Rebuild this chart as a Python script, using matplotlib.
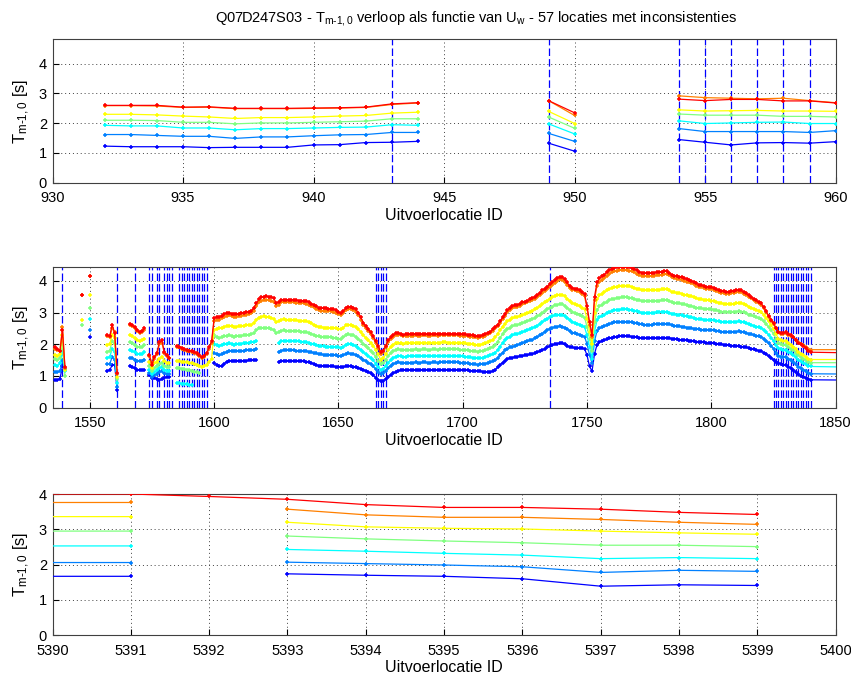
import numpy as np
import matplotlib
matplotlib.use('Agg')
import matplotlib.pyplot as plt

nan = float('nan')

plt.rcParams['font.family'] = ['Liberation Sans', 'DejaVu Sans']
plt.rcParams['mathtext.fontset'] = 'custom'
plt.rcParams['mathtext.rm'] = 'Liberation Sans'
plt.rcParams['mathtext.it'] = 'Liberation Sans:italic'

# one colour per wind speed class (low -> high)
series_colors = ['#0000ff', '#0080ff', '#00ffff', '#80ff80', '#ffff00', '#ff8000', '#ff0000']

# ---------------- panel 1: locations 930-960 ----------------
top_ids = list(range(932, 961))
top_blue = [1.23, 1.21, 1.21, 1.21, 1.18, 1.19, 1.19, 1.19, 1.27, 1.28, 1.35, 1.36, 1.39,
            nan, nan, nan, nan, 1.33, 1.06, nan, nan, nan,
            1.45, 1.36, 1.27, 1.34, 1.35, 1.33, 1.38]
top_dodger = [1.62, 1.62, 1.59, 1.56, 1.56, 1.49, 1.54, 1.54, 1.58, 1.61, 1.62, 1.69, 1.69,
              nan, nan, nan, nan, 1.66, 1.39, nan, nan, nan,
              1.82, 1.72, 1.72, 1.72, 1.72, 1.69, 1.75]
top_cyan = [1.93, 1.91, 1.91, 1.84, 1.84, 1.78, 1.82, 1.82, 1.84, 1.86, 1.87, 1.95, 1.93,
            nan, nan, nan, nan, 1.98, 1.64, nan, nan, nan,
            2.08, 1.99, 2.01, 2.03, 2.04, 1.99, 1.99]
top_green = [2.10, 2.10, 2.09, 2.03, 2.03, 1.98, 2.01, 2.01, 2.03, 2.05, 2.07, 2.15, 2.15,
             nan, nan, nan, nan, 2.21, 1.83, nan, nan, nan,
             2.31, 2.27, 2.27, 2.27, 2.23, 2.23, 2.21]
top_yellow = [2.30, 2.30, 2.28, 2.24, 2.21, 2.16, 2.19, 2.19, 2.21, 2.24, 2.26, 2.34, 2.37,
              nan, nan, nan, nan, 2.40, 1.99, nan, nan, nan,
              2.45, 2.41, 2.42, 2.43, 2.41, 2.41, 2.40]
top_orange = [2.59, 2.59, 2.58, 2.53, 2.54, 2.49, 2.49, 2.49, 2.50, 2.51, 2.53, 2.63, 2.68,
              nan, nan, nan, nan, 2.76, 2.26, nan, nan, nan,
              2.92, 2.86, 2.84, 2.82, 2.84, 2.76, 2.69]
top_red = [2.60, 2.60, 2.60, 2.54, 2.55, 2.50, 2.50, 2.50, 2.51, 2.52, 2.54, 2.65, 2.69,
           nan, nan, nan, nan, 2.76, 2.35, nan, nan, nan,
           2.81, 2.76, 2.80, 2.80, 2.75, 2.75, 2.68]
top_flags = [943, 949, 954, 955, 956, 957, 958, 959]

# ---------------- panel 2: locations 1535-1850 ----------------
mid_ids = list(range(1536, 1841)) + [1856]
mid_red = [
    1.90, 1.85, 1.78, 2.45, 1.28, nan, nan, nan, nan, nan,
    nan, 3.55, nan, nan, 4.17, nan, nan, nan, nan, nan,
    nan, 2.29, 2.25, 2.62, 2.35, 1.10, nan, nan, nan, nan,
    2.64, 2.60, 2.55, 2.45, 2.38, 2.42, 2.50, nan, 1.65, 1.35,
    1.60, 1.72, 2.08, 2.12, 1.75, 1.65, 1.58, nan, nan, 1.95,
    1.92, 1.88, 1.85, 1.82, 1.80, 1.78, 1.76, 1.72, 1.65, 1.60,
    1.62, 1.72, 1.90, 2.10, 2.82, 2.85, 2.87, 2.90, 2.95, 2.98,
    2.99, 2.97, 2.95, 2.95, 2.96, 2.98, 3.00, 3.02, 3.03, 3.06,
    3.15, 3.30, 3.42, 3.48, 3.50, 3.51, 3.50, 3.48, 3.45, 3.30,
    3.33, 3.40, 3.41, 3.41, 3.40, 3.40, 3.40, 3.39, 3.38, 3.38,
    3.37, 3.36, 3.33, 3.28, 3.25, 3.20, 3.16, 3.14, 3.13, 3.13,
    3.12, 3.12, 3.10, 3.08, 3.02, 2.98, 3.05, 3.15, 3.18, 3.18,
    3.16, 3.10, 3.00, 2.85, 2.68, 2.58, 2.48, 2.38, 2.25, 2.10,
    1.95, 1.75, 1.80, 1.95, 2.12, 2.22, 2.30, 2.35, 2.36, 2.33,
    2.30, 2.31, 2.32, 2.32, 2.32, 2.33, 2.32, 2.32, 2.33, 2.33,
    2.32, 2.32, 2.33, 2.33, 2.32, 2.33, 2.33, 2.34, 2.33, 2.33,
    2.33, 2.33, 2.33, 2.32, 2.32, 2.31, 2.30, 2.29, 2.28, 2.27,
    2.26, 2.27, 2.29, 2.32, 2.36, 2.40, 2.47, 2.55, 2.62, 2.72,
    2.85, 2.95, 3.08, 3.15, 3.20, 3.23, 3.25, 3.28, 3.32, 3.35,
    3.38, 3.42, 3.46, 3.50, 3.56, 3.62, 3.70, 3.76, 3.82, 3.90,
    3.95, 4.02, 4.08, 4.13, 4.12, 4.06, 3.95, 3.84, 3.78, 3.76,
    3.74, 3.70, 3.65, 3.58, 3.20, 2.70, 2.30, 3.50, 3.95, 4.08,
    4.15, 4.20, 4.28, 4.34, 4.38, 4.41, 4.43, 4.44, 4.45, 4.45,
    4.45, 4.43, 4.40, 4.37, 4.33, 4.29, 4.25, 4.24, 4.24, 4.24,
    4.25, 4.26, 4.27, 4.28, 4.29, 4.30, 4.30, 4.26, 4.20, 4.17,
    4.15, 4.13, 4.12, 4.08, 4.05, 4.03, 4.00, 3.96, 3.92, 3.88,
    3.86, 3.84, 3.82, 3.81, 3.80, 3.78, 3.74, 3.70, 3.68, 3.67,
    3.66, 3.66, 3.67, 3.68, 3.70, 3.71, 3.70, 3.66, 3.61, 3.55,
    3.49, 3.44, 3.39, 3.34, 3.29, 3.18, 3.05, 2.90, 2.78, 2.66,
    2.52, 2.40, 2.36, 2.35, 2.38, 2.32, 2.28, 2.24, 2.15, 2.05,
    2.00, 1.95, 1.88, 1.80, 1.75, 1.73]
mid_orange = [
    1.85, 1.82, 1.80, 2.55, 1.25, nan, nan, nan, nan, nan,
    nan, 3.55, nan, nan, 4.15, nan, nan, nan, nan, nan,
    nan, 2.25, 2.22, 2.50, 2.40, 1.05, nan, nan, nan, nan,
    2.60, 2.58, 2.52, 2.42, 2.36, 2.40, 2.46, nan, 1.62, 1.40,
    1.55, 1.68, 2.00, 2.05, 1.72, 1.62, 1.56, nan, nan, 1.92,
    1.90, 1.86, 1.83, 1.80, 1.78, 1.76, 1.73, 1.70, 1.63, 1.58,
    1.60, 1.70, 1.85, 2.05, 2.74, 2.76, 2.78, 2.82, 2.86, 2.90,
    2.91, 2.89, 2.87, 2.87, 2.88, 2.90, 2.92, 2.94, 2.95, 2.98,
    3.06, 3.20, 3.32, 3.38, 3.40, 3.41, 3.40, 3.38, 3.35, 3.22,
    3.25, 3.32, 3.33, 3.33, 3.32, 3.32, 3.32, 3.31, 3.30, 3.30,
    3.29, 3.28, 3.25, 3.20, 3.17, 3.12, 3.08, 3.06, 3.05, 3.05,
    3.04, 3.04, 3.02, 3.00, 2.95, 2.92, 2.98, 3.08, 3.11, 3.11,
    3.09, 3.03, 2.93, 2.78, 2.62, 2.52, 2.42, 2.32, 2.19, 2.04,
    1.89, 1.70, 1.75, 1.90, 2.06, 2.16, 2.24, 2.29, 2.30, 2.28,
    2.26, 2.26, 2.27, 2.27, 2.27, 2.28, 2.27, 2.27, 2.28, 2.28,
    2.27, 2.27, 2.28, 2.28, 2.27, 2.28, 2.28, 2.29, 2.28, 2.28,
    2.28, 2.28, 2.28, 2.27, 2.27, 2.26, 2.25, 2.24, 2.23, 2.22,
    2.21, 2.22, 2.24, 2.27, 2.31, 2.35, 2.42, 2.50, 2.57, 2.67,
    2.80, 2.90, 3.02, 3.09, 3.14, 3.17, 3.19, 3.22, 3.26, 3.29,
    3.32, 3.36, 3.40, 3.44, 3.49, 3.55, 3.62, 3.68, 3.74, 3.82,
    3.87, 3.94, 4.00, 4.05, 4.04, 3.98, 3.88, 3.78, 3.72, 3.70,
    3.68, 3.64, 3.59, 3.52, 3.12, 2.62, 2.22, 3.40, 3.85, 3.97,
    4.04, 4.09, 4.17, 4.23, 4.27, 4.30, 4.32, 4.33, 4.34, 4.34,
    4.34, 4.32, 4.30, 4.27, 4.23, 4.19, 4.16, 4.15, 4.15, 4.15,
    4.16, 4.17, 4.18, 4.19, 4.20, 4.21, 4.21, 4.18, 4.12, 4.09,
    4.07, 4.05, 4.04, 4.01, 3.98, 3.96, 3.93, 3.89, 3.85, 3.82,
    3.80, 3.78, 3.76, 3.75, 3.74, 3.72, 3.68, 3.64, 3.62, 3.61,
    3.60, 3.60, 3.61, 3.62, 3.64, 3.65, 3.64, 3.60, 3.56, 3.50,
    3.45, 3.40, 3.35, 3.30, 3.25, 3.14, 3.01, 2.87, 2.75, 2.63,
    2.50, 2.38, 2.34, 2.33, 2.35, 2.30, 2.27, 2.23, 2.15, 2.06,
    2.02, 1.98, 1.92, 1.86, 1.83, 1.83]
mid_yellow = [
    1.65, 1.62, 1.68, 2.30, 1.20, nan, nan, nan, nan, nan,
    nan, 2.78, nan, nan, 3.57, nan, nan, nan, nan, nan,
    nan, 1.99, 2.00, 2.30, 2.20, 0.98, nan, nan, nan, nan,
    2.30, 2.25, 2.20, 2.14, 2.10, 2.12, 2.18, nan, 1.45, 1.25,
    1.40, 1.45, 1.55, 1.60, 1.48, 1.42, 1.40, nan, nan, 1.48,
    1.47, 1.45, 1.44, 1.43, 1.42, 1.40, 1.38, 1.36, 1.32, 1.29,
    1.30, 1.35, 1.45, 1.55, 2.45, 2.48, 2.50, 2.53, 2.56, 2.58,
    2.59, 2.57, 2.55, 2.56, 2.57, 2.58, 2.59, 2.60, 2.61, 2.62,
    2.68, 2.78, 2.84, 2.87, 2.88, 2.87, 2.85, 2.83, 2.80, 2.70,
    2.72, 2.78, 2.79, 2.78, 2.78, 2.77, 2.77, 2.76, 2.75, 2.75,
    2.74, 2.73, 2.70, 2.66, 2.62, 2.58, 2.55, 2.54, 2.53, 2.53,
    2.52, 2.52, 2.51, 2.50, 2.48, 2.47, 2.53, 2.60, 2.62, 2.61,
    2.59, 2.55, 2.47, 2.38, 2.28, 2.20, 2.12, 2.04, 1.95, 1.83,
    1.68, 1.52, 1.56, 1.68, 1.82, 1.92, 1.99, 2.03, 2.05, 2.04,
    2.02, 2.03, 2.04, 2.04, 2.04, 2.05, 2.04, 2.04, 2.05, 2.05,
    2.04, 2.04, 2.05, 2.05, 2.04, 2.05, 2.06, 2.06, 2.05, 2.05,
    2.05, 2.05, 2.05, 2.04, 2.04, 2.03, 2.02, 2.01, 2.00, 1.99,
    1.98, 1.99, 2.01, 2.03, 2.06, 2.10, 2.15, 2.22, 2.32, 2.45,
    2.56, 2.65, 2.72, 2.78, 2.82, 2.85, 2.87, 2.89, 2.92, 2.95,
    2.98, 3.02, 3.06, 3.10, 3.15, 3.20, 3.26, 3.32, 3.38, 3.44,
    3.48, 3.52, 3.55, 3.57, 3.56, 3.52, 3.44, 3.36, 3.30, 3.27,
    3.24, 3.20, 3.15, 3.10, 2.80, 2.40, 2.00, 3.00, 3.42, 3.55,
    3.60, 3.64, 3.70, 3.75, 3.78, 3.80, 3.82, 3.83, 3.84, 3.84,
    3.84, 3.83, 3.81, 3.79, 3.76, 3.73, 3.71, 3.70, 3.70, 3.70,
    3.70, 3.71, 3.72, 3.72, 3.73, 3.73, 3.73, 3.70, 3.66, 3.64,
    3.62, 3.61, 3.60, 3.57, 3.55, 3.53, 3.51, 3.48, 3.45, 3.43,
    3.42, 3.41, 3.40, 3.39, 3.38, 3.37, 3.34, 3.31, 3.29, 3.28,
    3.27, 3.27, 3.27, 3.28, 3.29, 3.30, 3.29, 3.27, 3.24, 3.19,
    3.15, 3.12, 3.08, 3.05, 3.02, 2.94, 2.84, 2.72, 2.60, 2.48,
    2.32, 2.18, 2.12, 2.10, 2.10, 2.03, 1.98, 1.93, 1.85, 1.75,
    1.70, 1.65, 1.60, 1.55, 1.52, 1.52]
mid_green = [
    1.55, 1.50, 1.58, 2.00, 1.00, nan, nan, nan, nan, nan,
    nan, 2.62, nan, nan, 3.13, nan, nan, nan, nan, nan,
    nan, 1.77, 1.80, 2.10, 2.00, 0.90, nan, nan, nan, nan,
    2.07, 2.03, 1.98, 1.93, 1.90, 1.92, 1.98, nan, 1.30, 1.15,
    1.25, 1.30, 1.38, 1.42, 1.32, 1.28, 1.27, nan, nan, 1.25,
    1.24, 1.22, 1.21, 1.20, 1.18, 1.16, 1.14, 1.12, 1.10, nan,
    nan, nan, nan, nan, 2.28, 2.22, 2.20, 2.22, 2.25, 2.27,
    2.28, 2.26, 2.24, 2.25, 2.26, 2.27, 2.28, 2.29, 2.30, 2.31,
    2.36, 2.44, 2.50, 2.52, 2.53, 2.52, 2.50, 2.48, 2.45, 2.36,
    2.38, 2.43, 2.44, 2.43, 2.43, 2.42, 2.42, 2.41, 2.41, 2.40,
    2.40, 2.39, 2.36, 2.33, 2.30, 2.27, 2.25, 2.24, 2.23, 2.23,
    2.22, 2.22, 2.21, 2.20, 2.18, 2.17, 2.22, 2.29, 2.31, 2.30,
    2.28, 2.24, 2.17, 2.09, 2.01, 1.94, 1.87, 1.80, 1.71, 1.60,
    1.48, 1.38, 1.41, 1.52, 1.63, 1.72, 1.78, 1.82, 1.84, 1.83,
    1.82, 1.82, 1.83, 1.83, 1.83, 1.84, 1.83, 1.83, 1.84, 1.84,
    1.83, 1.83, 1.84, 1.84, 1.83, 1.84, 1.85, 1.85, 1.84, 1.84,
    1.84, 1.84, 1.84, 1.83, 1.83, 1.82, 1.81, 1.80, 1.79, 1.78,
    1.77, 1.78, 1.79, 1.81, 1.84, 1.88, 1.93, 1.99, 2.08, 2.20,
    2.32, 2.42, 2.48, 2.53, 2.57, 2.60, 2.62, 2.64, 2.67, 2.70,
    2.73, 2.76, 2.80, 2.84, 2.88, 2.93, 2.99, 3.05, 3.10, 3.15,
    3.19, 3.23, 3.25, 3.27, 3.26, 3.22, 3.15, 3.08, 3.02, 2.99,
    2.96, 2.92, 2.88, 2.84, 2.55, 2.18, 1.80, 2.70, 3.08, 3.20,
    3.25, 3.29, 3.34, 3.39, 3.42, 3.44, 3.46, 3.47, 3.48, 3.48,
    3.48, 3.47, 3.46, 3.44, 3.41, 3.39, 3.37, 3.36, 3.36, 3.36,
    3.36, 3.37, 3.38, 3.38, 3.39, 3.39, 3.39, 3.36, 3.33, 3.31,
    3.30, 3.29, 3.28, 3.26, 3.24, 3.22, 3.20, 3.18, 3.16, 3.14,
    3.13, 3.12, 3.11, 3.11, 3.10, 3.09, 3.07, 3.04, 3.02, 3.01,
    3.01, 3.01, 3.01, 3.02, 3.03, 3.04, 3.03, 3.01, 2.98, 2.94,
    2.91, 2.88, 2.85, 2.83, 2.80, 2.73, 2.64, 2.54, 2.44, 2.33,
    2.18, 2.05, 2.00, 1.98, 1.97, 1.91, 1.86, 1.81, 1.74, 1.65,
    1.60, 1.55, 1.50, 1.45, 1.42, 1.42]
mid_cyan = [
    1.35, 1.32, 1.40, 1.80, 1.15, nan, nan, nan, nan, nan,
    nan, nan, nan, nan, 2.81, nan, nan, nan, nan, nan,
    nan, 1.58, 1.60, 1.85, 1.75, 0.77, nan, nan, nan, nan,
    1.83, 1.80, 1.75, 1.70, 1.68, 1.70, 1.75, nan, 1.20, 1.05,
    1.12, 1.18, 1.25, 1.28, 1.20, 1.17, 1.15, nan, nan, 0.78,
    0.77, 0.76, 0.75, 0.74, 0.73, 0.72, nan, nan, nan, nan,
    nan, nan, nan, nan, 2.02, 1.97, 1.95, 1.97, 2.00, 2.02,
    2.03, 2.01, 1.99, 2.00, 2.01, 2.02, 2.03, 2.04, 2.05, 2.06,
    2.07, 2.09, nan, nan, nan, nan, nan, nan, nan, nan,
    2.05, 2.10, 2.11, 2.11, 2.10, 2.10, 2.10, 2.09, 2.09, 2.08,
    2.08, 2.07, 2.05, 2.02, 2.00, 1.97, 1.95, 1.94, 1.94, 1.93,
    1.93, 1.93, 1.92, 1.91, 1.90, 1.89, 1.93, 1.99, 2.01, 2.00,
    1.98, 1.95, 1.89, 1.82, 1.75, 1.69, 1.63, 1.57, 1.49, 1.39,
    1.29, 1.19, 1.22, 1.32, 1.42, 1.51, 1.57, 1.61, 1.63, 1.62,
    1.61, 1.61, 1.62, 1.62, 1.62, 1.63, 1.62, 1.62, 1.63, 1.63,
    1.62, 1.62, 1.63, 1.63, 1.62, 1.63, 1.64, 1.64, 1.63, 1.63,
    1.63, 1.63, 1.63, 1.62, 1.62, 1.61, 1.60, 1.59, 1.58, 1.57,
    1.56, 1.57, 1.58, 1.60, 1.62, 1.65, 1.69, 1.74, 1.82, 1.93,
    2.04, 2.13, 2.19, 2.24, 2.28, 2.31, 2.33, 2.35, 2.38, 2.41,
    2.44, 2.47, 2.51, 2.55, 2.59, 2.64, 2.70, 2.76, 2.81, 2.85,
    2.88, 2.91, 2.93, 2.94, 2.93, 2.90, 2.84, 2.77, 2.71, 2.68,
    2.65, 2.62, 2.58, 2.54, 2.28, 1.92, 1.55, 2.40, 2.76, 2.86,
    2.90, 2.94, 2.98, 3.02, 3.05, 3.07, 3.08, 3.09, 3.10, 3.10,
    3.10, 3.09, 3.08, 3.06, 3.04, 3.02, 3.00, 2.99, 2.99, 2.99,
    2.99, 3.00, 3.01, 3.01, 3.02, 3.02, 3.02, 3.00, 2.97, 2.95,
    2.94, 2.93, 2.92, 2.90, 2.88, 2.87, 2.85, 2.83, 2.81, 2.80,
    2.79, 2.78, 2.78, 2.77, 2.77, 2.76, 2.74, 2.72, 2.70, 2.69,
    2.69, 2.69, 2.69, 2.70, 2.71, 2.72, 2.71, 2.69, 2.67, 2.63,
    2.61, 2.58, 2.56, 2.54, 2.52, 2.46, 2.38, 2.30, 2.21, 2.11,
    1.98, 1.88, 1.84, 1.82, 1.81, 1.76, 1.71, 1.66, 1.59, 1.50,
    1.46, 1.42, 1.38, 1.33, 1.30, 1.28]
mid_dodger = [
    1.12, 1.12, 1.15, 1.50, 1.20, nan, nan, nan, nan, nan,
    nan, nan, nan, nan, 2.46, nan, nan, nan, nan, nan,
    nan, 1.37, 1.38, 1.60, 1.50, 0.66, nan, nan, nan, nan,
    1.58, 1.56, 1.52, 1.48, 1.46, 1.48, 1.52, nan, 1.10, 0.98,
    1.02, 1.06, 1.12, 1.15, 1.08, 1.06, 1.05, nan, nan, nan,
    nan, nan, nan, nan, nan, nan, nan, nan, nan, nan,
    nan, nan, nan, nan, 1.72, 1.68, 1.66, 1.68, 1.72, 1.76,
    1.80, 1.79, 1.78, 1.78, 1.79, 1.80, 1.80, 1.81, 1.82, 1.82,
    1.83, 1.84, nan, nan, nan, nan, nan, nan, nan, nan,
    1.75, 1.80, 1.82, 1.82, 1.81, 1.81, 1.81, 1.80, 1.80, 1.80,
    1.79, 1.79, 1.77, 1.75, 1.73, 1.71, 1.69, 1.68, 1.67, 1.67,
    1.67, 1.67, 1.66, 1.65, 1.64, 1.63, 1.66, 1.70, 1.71, 1.70,
    1.69, 1.66, 1.62, 1.57, 1.52, 1.47, 1.42, 1.37, 1.30, 1.22,
    1.13, 1.06, 1.09, 1.17, 1.26, 1.33, 1.38, 1.41, 1.43, 1.42,
    1.41, 1.41, 1.42, 1.42, 1.42, 1.43, 1.42, 1.42, 1.43, 1.43,
    1.42, 1.42, 1.43, 1.43, 1.42, 1.43, 1.44, 1.44, 1.43, 1.43,
    1.43, 1.43, 1.43, 1.42, 1.42, 1.41, 1.40, 1.39, 1.38, 1.37,
    1.36, 1.37, 1.38, 1.39, 1.41, 1.43, 1.46, 1.50, 1.56, 1.65,
    1.74, 1.81, 1.86, 1.90, 1.93, 1.96, 1.98, 2.00, 2.03, 2.06,
    2.09, 2.12, 2.15, 2.19, 2.23, 2.28, 2.34, 2.40, 2.45, 2.49,
    2.52, 2.54, 2.56, 2.57, 2.56, 2.53, 2.48, 2.42, 2.37, 2.35,
    2.33, 2.30, 2.27, 2.24, 2.00, 1.65, 1.40, 2.10, 2.42, 2.50,
    2.54, 2.57, 2.61, 2.64, 2.67, 2.69, 2.70, 2.71, 2.71, 2.71,
    2.71, 2.70, 2.69, 2.68, 2.66, 2.64, 2.63, 2.62, 2.62, 2.62,
    2.62, 2.63, 2.63, 2.64, 2.64, 2.65, 2.65, 2.63, 2.61, 2.59,
    2.58, 2.57, 2.56, 2.55, 2.53, 2.52, 2.51, 2.49, 2.48, 2.47,
    2.46, 2.46, 2.45, 2.45, 2.45, 2.44, 2.43, 2.41, 2.40, 2.39,
    2.39, 2.39, 2.39, 2.40, 2.40, 2.41, 2.40, 2.38, 2.36, 2.33,
    2.31, 2.29, 2.27, 2.25, 2.23, 2.18, 2.11, 2.03, 1.95, 1.86,
    1.74, 1.64, 1.61, 1.60, 1.59, 1.54, 1.49, 1.44, 1.37, 1.29,
    1.25, 1.20, 1.15, 1.10, 1.07, 1.06]
mid_blue = [
    0.88, 0.87, 0.92, 1.30, 1.22, nan, nan, nan, nan, nan,
    nan, nan, nan, nan, 2.22, nan, nan, nan, nan, nan,
    nan, 1.17, 1.18, 1.35, 1.35, 0.56, nan, nan, nan, nan,
    1.32, 1.28, 1.24, 1.20, 1.19, 1.19, 1.20, nan, 1.03, 0.95,
    0.95, 0.92, 0.88, 0.90, 0.95, 0.97, 0.98, nan, nan, nan,
    nan, nan, nan, nan, nan, nan, nan, nan, nan, nan,
    nan, nan, nan, nan, 1.40, 1.36, 1.32, 1.30, 1.38, 1.45,
    1.48, 1.48, 1.47, 1.47, 1.48, 1.48, 1.48, 1.48, 1.49, 1.49,
    1.49, 1.49, nan, nan, nan, nan, nan, nan, nan, nan,
    1.45, 1.48, 1.48, 1.48, 1.48, 1.47, 1.47, 1.47, 1.46, 1.46,
    1.46, 1.45, 1.44, 1.42, 1.38, 1.35, 1.33, 1.32, 1.31, 1.31,
    1.30, 1.30, 1.30, 1.29, 1.29, 1.29, 1.29, 1.30, 1.30, 1.30,
    1.29, 1.28, 1.26, 1.23, 1.20, 1.16, 1.12, 1.08, 1.02, 0.95,
    0.88, 0.83, 0.84, 0.90, 0.97, 1.03, 1.08, 1.12, 1.16, 1.18,
    1.18, 1.18, 1.19, 1.19, 1.19, 1.19, 1.19, 1.19, 1.19, 1.19,
    1.19, 1.19, 1.19, 1.19, 1.19, 1.19, 1.20, 1.20, 1.19, 1.19,
    1.19, 1.19, 1.19, 1.19, 1.18, 1.18, 1.18, 1.17, 1.17, 1.17,
    1.16, 1.15, 1.14, 1.13, 1.13, 1.13, 1.15, 1.20, 1.27, 1.35,
    1.42, 1.48, 1.53, 1.56, 1.58, 1.60, 1.61, 1.62, 1.63, 1.65,
    1.66, 1.68, 1.70, 1.72, 1.75, 1.78, 1.82, 1.86, 1.90, 1.94,
    1.97, 2.00, 2.02, 2.04, 2.03, 2.00, 1.96, 1.92, 1.90, 1.89,
    1.88, 1.88, 1.87, 1.86, 1.65, 1.30, 1.15, 1.70, 1.98, 2.06,
    2.10, 2.13, 2.16, 2.19, 2.21, 2.23, 2.24, 2.25, 2.26, 2.26,
    2.26, 2.25, 2.24, 2.23, 2.22, 2.21, 2.20, 2.19, 2.19, 2.19,
    2.19, 2.19, 2.20, 2.20, 2.21, 2.21, 2.21, 2.20, 2.18, 2.17,
    2.16, 2.15, 2.14, 2.13, 2.12, 2.11, 2.10, 2.09, 2.08, 2.07,
    2.06, 2.06, 2.05, 2.04, 2.03, 2.03, 2.02, 2.01, 2.00, 1.99,
    1.98, 1.97, 1.96, 1.96, 1.95, 1.94, 1.93, 1.92, 1.90, 1.88,
    1.86, 1.84, 1.82, 1.80, 1.78, 1.74, 1.69, 1.63, 1.57, 1.51,
    1.45, 1.40, 1.38, 1.36, 1.34, 1.29, 1.24, 1.19, 1.12, 1.05,
    1.01, 0.97, 0.93, 0.90, 0.88, 0.87]
mid_flags = ([1539, 1561, 1568, 1574, 1575, 1577, 1578, 1580, 1581, 1582, 1583]
             + list(range(1586, 1598)) + list(range(1665, 1670)) + [1735]
             + list(range(1825, 1841)))

# ---------------- panel 3: locations 5390-5400 ----------------
bot_ids = [5385, 5391, 5392, 5393, 5394, 5395, 5396, 5397, 5398, 5399]
bot_red = [4.00, 4.00, 3.93, 3.85, 3.70, 3.62, 3.62, 3.57, 3.48, 3.42]
bot_orange = [3.76, 3.76, nan, 3.57, 3.41, 3.34, 3.34, 3.28, 3.20, 3.14]
bot_yellow = [3.36, 3.36, nan, 3.20, 3.07, 3.03, 3.01, 2.95, 2.90, 2.86]
bot_green = [2.95, 2.95, nan, 2.81, 2.73, 2.67, 2.62, 2.55, 2.55, 2.51]
bot_cyan = [2.53, 2.53, nan, 2.43, 2.38, 2.32, 2.27, 2.17, 2.20, 2.17]
bot_dodger = [2.06, 2.06, nan, 2.07, 2.03, 1.99, 1.94, 1.78, 1.84, 1.81]
bot_blue = [1.67, 1.67, nan, 1.74, 1.70, 1.67, 1.60, 1.39, 1.43, 1.41]
bot_flags = []

panels = [
    dict(ids=top_ids, series=[top_blue, top_dodger, top_cyan, top_green, top_yellow, top_orange, top_red],
         flags=top_flags, xlim=(930, 960), xticks=list(range(930, 961, 5)), ylim=(0, 4.82),
         rect=[0.0617, 0.7301, 0.9203, 0.2118]),
    dict(ids=mid_ids, series=[mid_blue, mid_dodger, mid_cyan, mid_green, mid_yellow, mid_orange, mid_red],
         flags=mid_flags, xlim=(1535, 1850), xticks=list(range(1550, 1851, 50)), ylim=(0, 4.43),
         rect=[0.0617, 0.3978, 0.9203, 0.2074]),
    dict(ids=bot_ids, series=[bot_blue, bot_dodger, bot_cyan, bot_green, bot_yellow, bot_orange, bot_red],
         flags=bot_flags, xlim=(5390, 5400), xticks=list(range(5390, 5401)), ylim=(0, 4.0),
         rect=[0.0617, 0.0616, 0.9203, 0.2087]),
]

ylabel_text = r'T$_{\mathrm{m\text{-}1,0}}$ [s]'
title_text = (r'Q07D247S03 - T$_{\mathrm{m\text{-}1,0}}$ verloop als functie van '
              r'U$_{\mathrm{w}}$ - 57 locaties met inconsistenties')

fig = plt.figure(figsize=(8.51, 6.77), dpi=100)
fig.text(0.559, 0.973, title_text, ha='center', va='center', fontsize=10.5)

for p in panels:
    ax = fig.add_axes(p['rect'])
    ids = np.array(p['ids'], dtype=float)
    for vals, col in zip(p['series'], series_colors):
        ax.plot(ids, np.array(vals, dtype=float), color=col, lw=0.9,
                marker='+', ms=3.5, mew=1.1, zorder=3)
    for f in p['flags']:
        ax.axvline(f, color='#0000ff', lw=0.9, dashes=(6, 2.5), zorder=2)
    ax.set_xlim(*p['xlim'])
    ax.set_ylim(*p['ylim'])
    ax.set_xticks(p['xticks'])
    ax.set_yticks([0, 1, 2, 3, 4])
    ax.grid(True, color='0.25', linestyle=(0, (1, 3)), linewidth=0.7)
    ax.tick_params(direction='in', length=4, labelsize=10.5, colors='black')
    ax.tick_params(axis='x', pad=6)
    ax.tick_params(axis='y', pad=4)
    for s in ax.spines.values():
        s.set_color('0.25')
        s.set_linewidth(0.8)
    ax.set_xlabel('Uitvoerlocatie ID', fontsize=11.5, labelpad=2)
    ax.set_ylabel(ylabel_text, fontsize=12, labelpad=5)

fig.savefig('out.png', dpi=100)
